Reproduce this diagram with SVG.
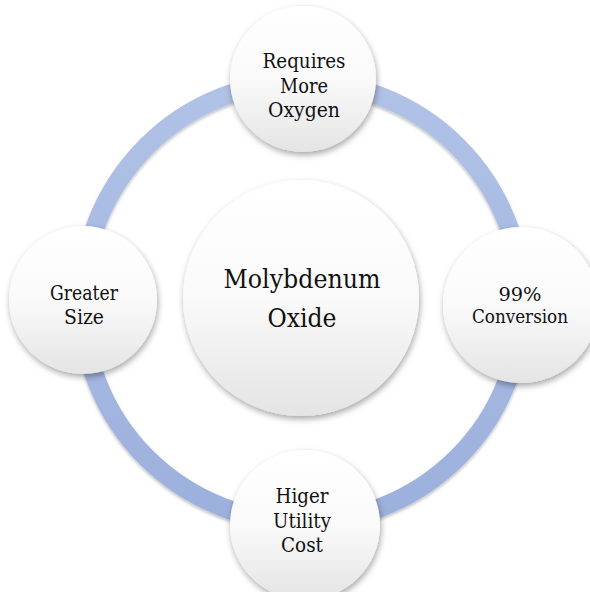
<svg xmlns="http://www.w3.org/2000/svg" width="590" height="592" viewBox="0 0 590 592">
<defs>
<linearGradient id="g" x1="0" y1="0" x2="0" y2="1">
<stop offset="0" stop-color="#ffffff"/>
<stop offset="0.5" stop-color="#fafafa"/>
<stop offset="1" stop-color="#e4e4e4"/>
</linearGradient>
<linearGradient id="rg" x1="0" y1="0" x2="0" y2="1">
<stop offset="0" stop-color="#b0c2e6"/>
<stop offset="1" stop-color="#9cb0dd"/>
</linearGradient>
<filter id="sh" x="-20%" y="-20%" width="140%" height="140%">
<feDropShadow dx="1" dy="3" stdDeviation="3" flood-color="#000" flood-opacity="0.35"/>
</filter>
<filter id="rsh" x="-10%" y="-10%" width="120%" height="120%">
<feDropShadow dx="0" dy="2" stdDeviation="1.5" flood-color="#000" flood-opacity="0.25"/>
</filter>
<style>
.n{fill:url(#g);filter:url(#sh);}
text{font-family:'DejaVu Serif','Liberation Serif',serif;fill:#111;text-anchor:middle;}
.s{font-size:21px;}
.c{font-size:26px;}
.r{font-size:19px;}
</style>
</defs>
<rect width="590" height="592" fill="#ffffff"/>
<g id="connectors">
<circle cx="302" cy="302" r="220" fill="none" stroke="url(#rg)" stroke-width="19" filter="url(#rsh)"/>
</g>
<g id="center">
<circle class="n" cx="301" cy="298" r="118"/>
<text class="c" x="302" y="288" textLength="157" lengthAdjust="spacingAndGlyphs">Molybdenum</text>
<text class="c" x="302" y="327" textLength="69" lengthAdjust="spacingAndGlyphs">Oxide</text>
</g>
<g id="top">
<circle class="n" cx="303" cy="79" r="73"/>
<text class="s" x="304" y="68" textLength="83" lengthAdjust="spacingAndGlyphs">Requires</text>
<text class="s" x="304" y="93" textLength="48" lengthAdjust="spacingAndGlyphs">More</text>
<text class="s" x="304" y="117" textLength="72" lengthAdjust="spacingAndGlyphs">Oxygen</text>
</g>
<g id="left">
<circle class="n" cx="83" cy="300" r="74"/>
<text class="s" x="84" y="300" textLength="68" lengthAdjust="spacingAndGlyphs">Greater</text>
<text class="s" x="84" y="324" textLength="40" lengthAdjust="spacingAndGlyphs">Size</text>
</g>
<g id="right">
<circle class="n" cx="521" cy="305" r="78"/>
<text class="r" x="520" y="301" textLength="43" lengthAdjust="spacingAndGlyphs">99%</text>
<text class="r" x="520" y="323" textLength="96" lengthAdjust="spacingAndGlyphs">Conversion</text>
</g>
<g id="bottom">
<circle class="n" cx="305" cy="525" r="75"/>
<text class="s" x="302" y="503" textLength="53" lengthAdjust="spacingAndGlyphs">Higer</text>
<text class="s" x="302" y="528" textLength="58" lengthAdjust="spacingAndGlyphs">Utility</text>
<text class="s" x="302" y="552" textLength="42" lengthAdjust="spacingAndGlyphs">Cost</text>
</g>
</svg>
